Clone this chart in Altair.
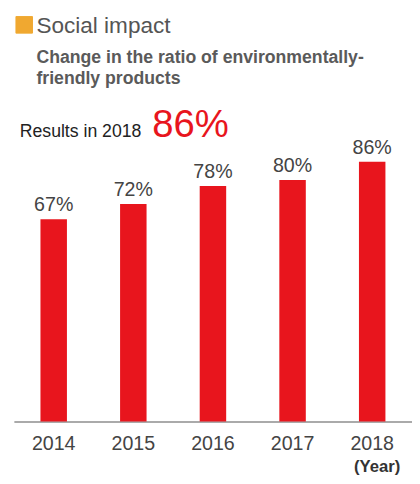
import altair as alt
import pandas as pd

years = ["2014", "2015", "2016", "2017", "2018"]
ratios = [67, 72, 78, 80, 86]
labels = ["67%", "72%", "78%", "80%", "86%"]

df = pd.DataFrame({"year": years, "ratio": ratios, "label": labels})

FONT = "Liberation Sans"
RED = "#e8151d"
GRAY = "#555555"

x = alt.X("year:N", sort=years, title=None,
          scale=alt.Scale(paddingInner=0, paddingOuter=0),
          axis=alt.Axis(labelAngle=0, ticks=False, domainColor="#aaaaaa", domainWidth=2,
                        labelFont=FONT, labelFontSize=20, labelColor="#444444",
                        labelPadding=13, grid=False))
y = alt.Y("ratio:Q", scale=alt.Scale(domain=[0, 100]), axis=None)

base = alt.Chart(df)
bars = base.mark_bar(size=27, color=RED).encode(x=x, y=y)
vals = base.mark_text(font=FONT, fontSize=20, color="#444444", baseline="alphabetic", dy=-8).encode(
    x=x, y=y, text="label:N")

square = alt.Chart(df).mark_rect(color="#f0a830").encode(
    x=alt.value(2), x2=alt.value(19), y=alt.value(-105), y2=alt.value(-88))

def txt(s, xv, yv, size, color, weight="normal", align="left", font=FONT):
    return alt.Chart(pd.DataFrame({"t": [s]})).mark_text(
        font=font, fontSize=size, color=color, fontWeight=weight, align=align,
        baseline="alphabetic").encode(x=alt.value(xv), y=alt.value(yv), text="t:N")

t1 = txt("Social impact", 23, -88, 23, GRAY)
t2 = txt("Change in the ratio of environmentally-", 23, -58, 18, "#5a5a5a", weight="bold")
t3 = txt("friendly products", 23, -36, 18, "#5a5a5a", weight="bold")
t4 = txt("Results in 2018", 6, 18, 18, "#222222")
t5 = txt("86%", 141, 18, 39, RED)
t6 = txt("(Year)", 394, 359, 17, "#333333", weight="bold", align="right")

chart = alt.layer(bars, vals, square, t1, t2, t3, t4, t5, t6).properties(
    width=406, height=308,
    autosize=alt.AutoSizeParams(type="none"),
    padding={"left": 6, "top": 109, "right": 0, "bottom": 58},
).configure_view(stroke=None)

chart.save("out.html", embed_options={"renderer": "svg", "actions": False})
